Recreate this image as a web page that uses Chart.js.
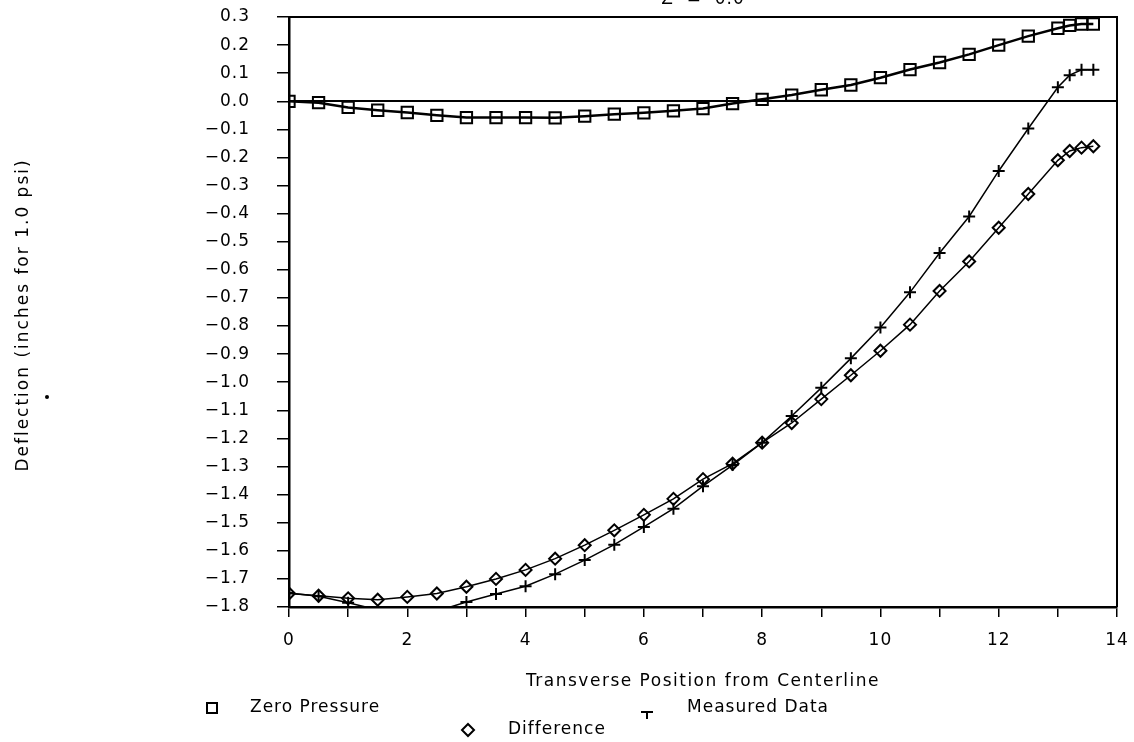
<!DOCTYPE html>
<html>
<head>
<meta charset="utf-8">
<title>Deflection vs Transverse Position</title>
<script src="https://cdn.jsdelivr.net/npm/chart.js@4/dist/chart.umd.min.js"></script>
<style>
  html, body { margin: 0; padding: 0; background: #fff; }
  #wrap { width: 1134px; height: 742px; }
</style>
</head>
<body>
<div id="wrap"><canvas id="chart" width="1134" height="742"></canvas></div>
<script>
// transverse positions (same stations for all three series)
const positions = [0, 0.5, 1, 1.5, 2, 2.5, 3, 3.5, 4, 4.5, 5, 5.5, 6, 6.5, 7, 7.5,
  8, 8.5, 9, 9.5, 10, 10.5, 11, 11.5, 12, 12.5, 13, 13.2, 13.4, 13.6];

const zeroPressure = [0, -0.005, -0.022, -0.032, -0.04, -0.05, -0.058, -0.058, -0.058, -0.059,
  -0.053, -0.046, -0.041, -0.034, -0.026, -0.008, 0.007, 0.022, 0.041, 0.058,
  0.084, 0.113, 0.138, 0.167, 0.2, 0.232, 0.26, 0.27, 0.275, 0.275];

const measuredData = [-1.75, -1.762, -1.785, -1.81, -1.815, -1.815, -1.782, -1.754, -1.726, -1.683,
  -1.633, -1.578, -1.515, -1.45, -1.37, -1.295, -1.215, -1.12, -1.02, -0.915,
  -0.805, -0.68, -0.54, -0.41, -0.248, -0.097, 0.05, 0.093, 0.112, 0.112];

const difference = [-1.752, -1.76, -1.769, -1.774, -1.764, -1.752, -1.728, -1.7, -1.668, -1.628,
  -1.58, -1.527, -1.472, -1.415, -1.345, -1.29, -1.215, -1.145, -1.06, -0.975,
  -0.888, -0.795, -0.675, -0.57, -0.45, -0.33, -0.21, -0.177, -0.165, -0.16];

const xRange = [0, 14];
const yRange = [-1.8, 0.3];
const xLabelStep = 2;

const FONT = '"DejaVu Sans", "Liberation Sans", sans-serif';
Chart.defaults.font.family = FONT;
Chart.defaults.font.size = 17;
Chart.defaults.color = '#000';

const toPoints = ys => positions.map((x, i) => ({ x: x, y: ys[i] }));

// points that fall below the axis are not marked, only the line runs on
const hideOffScale = ctx => (ctx.raw && ctx.raw.y < yRange[0] ? 0 : 6);

function fmtY(v) {
  const s = v.toFixed(1);
  if (s === '-0.0') return '0.0';
  return s.replace('-', '\u2212');
}

// keep the plot box exactly where it is set, no room for label overhang
function noOverhang(scale) {
  scale.paddingTop = 0;
  scale.paddingBottom = 0;
  scale.paddingLeft = 0;
  scale.paddingRight = 0;
}

// frame, zero line, axis titles, legend
const paperMarks = {
  id: 'paperMarks',
  beforeDraw(chart) {
    chart.ctx.letterSpacing = '1px';
  },
  beforeDatasetsDraw(chart) {
    const { ctx, chartArea: a, scales: { y } } = chart;
    const y0 = Math.round(y.getPixelForValue(0));
    ctx.save();
    ctx.strokeStyle = '#000';
    ctx.lineWidth = 2;
    ctx.beginPath();
    ctx.moveTo(a.left, a.top);
    ctx.lineTo(a.right, a.top);
    ctx.lineTo(a.right, a.bottom);
    ctx.moveTo(a.left, y0);
    ctx.lineTo(a.right, y0);
    ctx.stroke();
    ctx.restore();
  },
  afterDraw(chart) {
    const { ctx, chartArea: a } = chart;
    const cx = (a.left + a.right) / 2;
    ctx.save();
    ctx.fillStyle = '#000';
    ctx.strokeStyle = '#000';
    ctx.font = '17px ' + FONT;

    // run title, mostly above the page edge
    ctx.textAlign = 'center';
    ctx.textBaseline = 'alphabetic';
    ctx.letterSpacing = '1px';
    ctx.fillText('Z  =  0.0', cx, 4);

    // x axis title
    ctx.textBaseline = 'middle';
    ctx.letterSpacing = '1.5px';
    ctx.fillText('Transverse Position from Centerline', cx, 682);

    // y axis title
    ctx.save();
    ctx.translate(24, 315);
    ctx.rotate(-Math.PI / 2);
    ctx.letterSpacing = '2px';
    ctx.fillText('Deflection (inches for 1.0 psi)', 0, 0);
    ctx.restore();

    // stray pen mark
    ctx.beginPath();
    ctx.arc(47, 397, 2, 0, Math.PI * 2);
    ctx.fill();

    // legend
    ctx.textAlign = 'left';
    ctx.letterSpacing = '1px';
    ctx.lineWidth = 2;
    ctx.strokeRect(212 - 5, 708 - 5, 10, 10);
    ctx.fillText('Zero Pressure', 250, 708);

    ctx.beginPath();
    ctx.moveTo(641, 712); ctx.lineTo(653, 712);
    ctx.moveTo(647, 712); ctx.lineTo(647, 719);
    ctx.stroke();
    ctx.fillText('Measured Data', 687, 708);

    ctx.beginPath();
    ctx.moveTo(468, 724); ctx.lineTo(474, 730); ctx.lineTo(468, 736); ctx.lineTo(462, 730);
    ctx.closePath();
    ctx.stroke();
    ctx.fillText('Difference', 508, 730);
    ctx.restore();
  }
};

new Chart(document.getElementById('chart'), {
  type: 'line',
  data: {
    datasets: [
      {
        label: 'Zero Pressure',
        data: toPoints(zeroPressure),
        borderColor: '#000',
        borderWidth: 2.5,
        pointStyle: 'rect',
        pointRadius: 8,
        pointBorderWidth: 2,
        pointBorderColor: '#000',
        pointBackgroundColor: 'rgba(0,0,0,0)',
        tension: 0
      },
      {
        label: 'Measured Data',
        data: toPoints(measuredData),
        borderColor: '#000',
        borderWidth: 1.5,
        pointStyle: 'cross',
        pointRadius: hideOffScale,
        pointBorderWidth: 2,
        pointBorderColor: '#000',
        tension: 0
      },
      {
        label: 'Difference',
        data: toPoints(difference),
        borderColor: '#000',
        borderWidth: 1.5,
        pointStyle: 'rectRot',
        pointRadius: 6,
        pointBorderWidth: 2,
        pointBorderColor: '#000',
        pointBackgroundColor: 'rgba(0,0,0,0)',
        tension: 0
      }
    ]
  },
  options: {
    responsive: false,
    animation: false,
    events: [],
    layout: { padding: { top: 17, right: 17, left: 0, bottom: 0 } },
    plugins: {
      legend: { display: false },
      tooltip: { enabled: false }
    },
    scales: {
      x: {
        type: 'linear',
        min: xRange[0],
        max: xRange[1],
        afterFit(scale) { scale.height = 135; noOverhang(scale); },
        border: { display: true, color: '#000', width: 2.5 },
        grid: { drawOnChartArea: false, drawTicks: true, tickLength: 10, color: '#000', lineWidth: 1.5 },
        ticks: {
          stepSize: 1,
          autoSkip: false,
          maxRotation: 0,
          maxTicksLimit: 20,
          padding: 13,
          callback: v => (v % xLabelStep === 0 ? String(v) : '')
        }
      },
      y: {
        type: 'linear',
        min: yRange[0],
        max: yRange[1],
        afterFit(scale) { scale.width = 289; noOverhang(scale); },
        border: { display: true, color: '#000', width: 2.5 },
        grid: { drawOnChartArea: false, drawTicks: true, tickLength: 12, color: '#000', lineWidth: 1.5 },
        ticks: {
          stepSize: 0.1,
          autoSkip: false,
          maxTicksLimit: 30,
          padding: 27,
          callback: v => fmtY(v)
        }
      }
    }
  },
  plugins: [paperMarks]
});
</script>
</body>
</html>
